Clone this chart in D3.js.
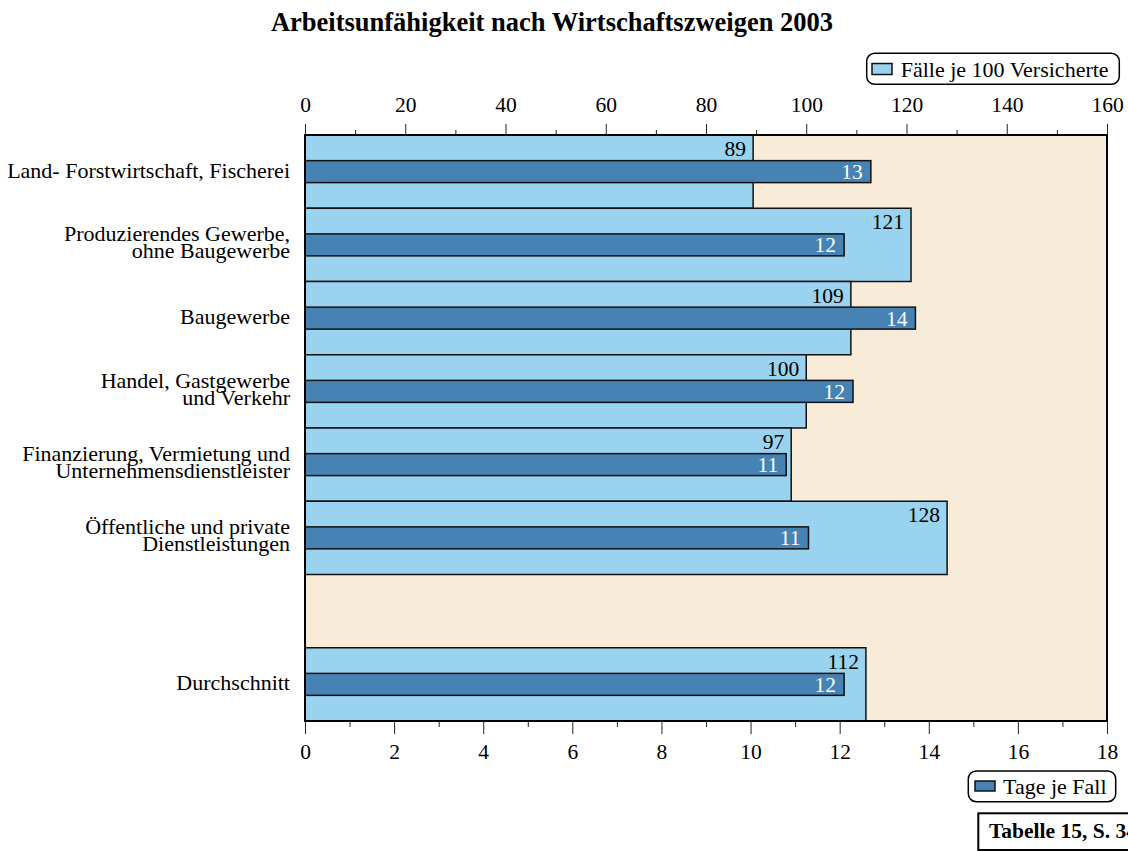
<!DOCTYPE html>
<html>
<head>
<meta charset="utf-8">
<script src="https://cdn.jsdelivr.net/npm/d3@7"></script>
<style>
  body { margin: 0; background: #fff; }
  svg { display: block; font-family: "Liberation Serif", "Times New Roman", serif; }
</style>
</head>
<body>
<svg id="chart" width="1128" height="851"></svg>
<script>
// ---- data ----
const categories = [
  ["Land- Forstwirtschaft, Fischerei"],
  ["Produzierendes Gewerbe,", "ohne Baugewerbe"],
  ["Baugewerbe"],
  ["Handel, Gastgewerbe", "und Verkehr"],
  ["Finanzierung, Vermietung und", "Unternehmensdienstleister"],
  ["Öffentliche und private", "Dienstleistungen"],
  ["Durchschnitt"]
];
const faelle = [89.4, 120.9, 108.9, 100.0, 97.0, 128.1, 111.9];   // Fälle je 100 Versicherte
const tage   = [12.7, 12.1, 13.7, 12.3, 10.8, 11.3, 12.1];         // Tage je Fall
const topTicks = [0, 20, 40, 60, 80, 100, 120, 140, 160];
const bottomTicks = [0, 2, 4, 6, 8, 10, 12, 14, 16, 18];
const title = "Arbeitsunfähigkeit nach Wirtschaftszweigen 2003";
const legendTop = "Fälle je 100 Versicherte";
const legendBottom = "Tage je Fall";
const sourceNote = "Tabelle 15, S. 34";

// ---- layout ----
const L = 305, R = 1107, T = 135, B = 721;
const colLight = "#99d3ef", colDark = "#4682b4", colBg = "#f8ecd8";
const svg = d3.select("#chart");

const keys = categories.map((c, i) => "k" + i);
const slotDomain = [...keys.slice(0, 6), "gap", keys[6]];
const y = d3.scaleBand().domain(slotDomain).range([T, B]).padding(0);
const xTop = d3.scaleLinear().domain([0, 160]).range([L, R]);
const xBot = d3.scaleLinear().domain([0, 18]).range([L, R]);

const data = categories.map((c, i) => ({ key: keys[i], label: c, f: faelle[i], t: tage[i] }));

// title
svg.append("text").attr("x", 552).attr("y", 31).attr("text-anchor", "middle")
  .attr("font-size", 26.5).attr("font-weight", "bold").text(title);

// background
svg.append("rect").attr("x", L).attr("y", T).attr("width", R - L).attr("height", B - T)
  .attr("fill", colBg);

// light bars
svg.append("g").selectAll("rect").data(data).join("rect")
  .attr("x", xTop(0)).attr("y", d => y(d.key))
  .attr("width", d => xTop(d.f) - xTop(0)).attr("height", y.bandwidth())
  .attr("fill", colLight).attr("stroke", "#111").attr("stroke-width", 1.5);

// dark bars
const dh = y.bandwidth() * 0.3;
svg.append("g").selectAll("rect").data(data).join("rect")
  .attr("x", xBot(0)).attr("y", d => y(d.key) + (y.bandwidth() - dh) / 2)
  .attr("width", d => xBot(d.t) - xBot(0)).attr("height", dh)
  .attr("fill", colDark).attr("stroke", "#111").attr("stroke-width", 1.5);

// value labels
const fmt = d3.format(".0f");
svg.append("g").selectAll("text").data(data).join("text")
  .attr("x", d => xTop(d.f) - 7).attr("y", d => y(d.key) + 21)
  .attr("text-anchor", "end").attr("font-size", 21.5).attr("fill", "#000")
  .text(d => fmt(d.f));
svg.append("g").selectAll("text").data(data).join("text")
  .attr("x", d => xBot(d.t) - 8).attr("y", d => y(d.key) + y.bandwidth() / 2 + 7.5)
  .attr("text-anchor", "end").attr("font-size", 21.5).attr("fill", "#fff")
  .text(d => fmt(d.t));

// category labels
const catG = svg.append("g").selectAll("text").data(data).join("text")
  .attr("text-anchor", "end").attr("font-size", 22)
  .attr("y", d => {
    const c = y(d.key) + y.bandwidth() / 2;
    return d.label.length === 1 ? c + 6 : c - 3.5;
  });
catG.each(function(d) {
  const t = d3.select(this);
  d.label.forEach((line, i) => {
    t.append("tspan").attr("x", 290).attr("dy", i === 0 ? 0 : 17).text(line);
  });
});

// plot border
svg.append("rect").attr("x", L).attr("y", T).attr("width", R - L).attr("height", B - T)
  .attr("fill", "none").attr("stroke", "#000").attr("stroke-width", 2);

// top axis
const topMinor = d3.range(10, 160, 20);
const gTop = svg.append("g").attr("transform", `translate(0,${T})`)
  .call(d3.axisTop(xTop).tickValues(topTicks).tickSize(11).tickPadding(12).tickFormat(d3.format("d")));
gTop.select(".domain").remove();
gTop.selectAll("text").attr("font-size", 21.5).attr("font-family", "Liberation Serif");
gTop.selectAll("line").attr("stroke", "#222");
svg.append("g").attr("transform", `translate(0,${T})`)
  .call(d3.axisTop(xTop).tickValues(topMinor).tickSize(5).tickFormat(""))
  .call(g => g.select(".domain").remove())
  .selectAll("line").attr("stroke", "#222");

// bottom axis
const botMinor = d3.range(1, 18, 2);
const gBot = svg.append("g").attr("transform", `translate(0,${B})`)
  .call(d3.axisBottom(xBot).tickValues(bottomTicks).tickSize(13).tickPadding(10).tickFormat(d3.format("d")));
gBot.select(".domain").remove();
gBot.selectAll("text").attr("font-size", 21.5).attr("font-family", "Liberation Serif");
gBot.selectAll("line").attr("stroke", "#222");
svg.append("g").attr("transform", `translate(0,${B})`)
  .call(d3.axisBottom(xBot).tickValues(botMinor).tickSize(6).tickFormat(""))
  .call(g => g.select(".domain").remove())
  .selectAll("line").attr("stroke", "#222");

// top legend
const lt = svg.append("g");
lt.append("rect").attr("x", 866.7).attr("y", 53.3).attr("width", 252.6).attr("height", 31)
  .attr("rx", 8).attr("fill", "#fff").attr("stroke", "#000").attr("stroke-width", 1.5);
lt.append("rect").attr("x", 872).attr("y", 63.5).attr("width", 20).attr("height", 11)
  .attr("fill", colLight).attr("stroke", "#111").attr("stroke-width", 1.5);
lt.append("text").attr("x", 900.7).attr("y", 77).attr("font-size", 22).text(legendTop);

// bottom legend
const lb = svg.append("g");
lb.append("rect").attr("x", 968.3).attr("y", 771).attr("width", 147.4).attr("height", 30.7)
  .attr("rx", 8).attr("fill", "#fff").attr("stroke", "#000").attr("stroke-width", 1.5);
lb.append("rect").attr("x", 975).attr("y", 781).attr("width", 20).attr("height", 10)
  .attr("fill", colDark).attr("stroke", "#111").attr("stroke-width", 1.5);
lb.append("text").attr("x", 1003).attr("y", 793.5).attr("font-size", 22).text(legendBottom);

// source note
const sn = svg.append("g");
sn.append("rect").attr("x", 978.3).attr("y", 813.3).attr("width", 200).attr("height", 36.7)
  .attr("fill", "#fff").attr("stroke", "#000").attr("stroke-width", 2);
sn.append("text").attr("x", 989).attr("y", 838).attr("font-size", 21.5).attr("font-weight", "bold")
  .text(sourceNote);
</script>
</body>
</html>
